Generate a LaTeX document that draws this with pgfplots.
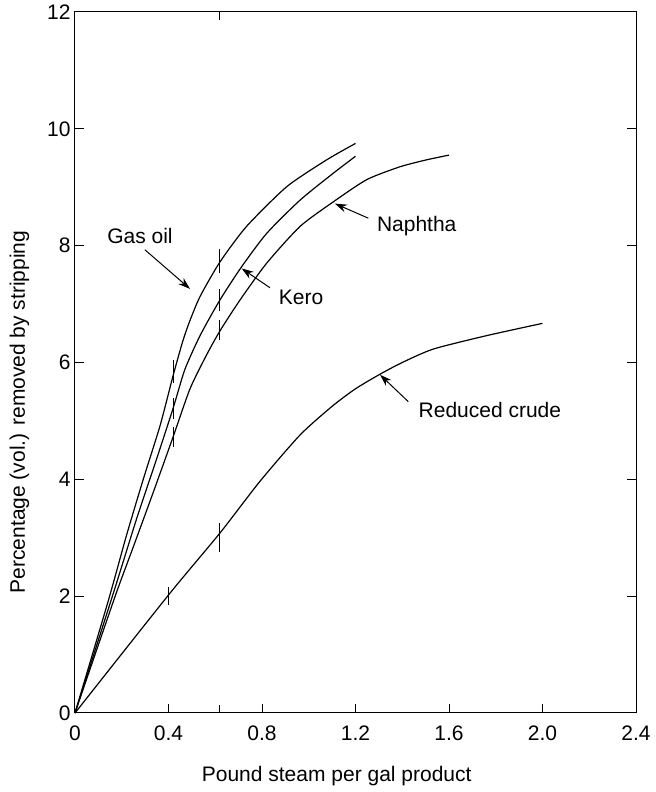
\documentclass[border=0pt]{standalone}
\usepackage{fontspec}
\setmainfont{Liberation Sans}
\usepackage{pgfplots}
\pgfplotsset{compat=1.18}
\usetikzlibrary{arrows.meta}

\begin{document}
\begin{tikzpicture}[font=\fontsize{21bp}{25bp}\selectfont]
\begin{axis}[
  name=ax,
  width=561bp, height=701bp, scale only axis,
  xmin=0, xmax=2.4, ymin=0, ymax=12,
  xtick={0,0.4,0.8,1.2,1.6,2.0,2.4},
  xticklabels={0,0.4,0.8,1.2,1.6,2.0,2.4},
  ytick={0,2,4,6,8,10,12},
  yticklabels={0,2,4,6,8,10,12},
  xtick pos=left,
  ytick pos=both,
  tick align=inside,
  major tick length=9bp,
  extra x ticks={0.62},
  extra x tick labels={},
  extra x tick style={xtick pos=both, major tick length=8bp},
  axis line style={line width=1bp},
  tick style={line width=1bp, black},
  xticklabel style={yshift=-9bp},
  yticklabel style={xshift=-1bp},
  xlabel={Pound steam per gal product},
  ylabel={Percentage (vol.) removed by stripping},
  xlabel style={at={(axis description cs:0.4665,0)}, anchor=base, yshift=-68bp},
  ylabel style={at={(axis description cs:0,0.4294)}, anchor=base, rotate=0, yshift=50bp},
  every axis plot/.append style={line width=1.2bp, black},
  clip=false,
]
% Gas oil
\addplot[smooth, tension=0.4] coordinates {(0,0) (0.143,1.93) (0.221,3.05) (0.292,4.0) (0.364,4.92) (0.42,5.78) (0.46,6.35) (0.49,6.7) (0.535,7.13) (0.62,7.72) (0.734,8.33) (0.906,9.01) (1.077,9.47) (1.2,9.75)};
% Kero
\addplot[smooth, tension=0.4] coordinates {(0,0) (0.164,2.05) (0.264,3.33) (0.35,4.36) (0.42,5.22) (0.47,5.88) (0.535,6.46) (0.62,7.07) (0.713,7.64) (0.82,8.21) (0.963,8.78) (1.105,9.24) (1.2,9.53)};
% Naphtha
\addplot[smooth, tension=0.4] coordinates {(0,0) (0.171,1.99) (0.25,2.85) (0.335,3.78) (0.42,4.73) (0.492,5.55) (0.563,6.13) (0.62,6.54) (0.706,7.07) (0.82,7.7) (0.963,8.33) (1.105,8.75) (1.248,9.13) (1.39,9.35) (1.505,9.47) (1.6,9.55)};
% Reduced crude
\addplot[smooth, tension=0.4] coordinates {(0,0) (0.4,2.02) (0.62,3.08) (0.79,3.96) (0.963,4.76) (1.1,5.25) (1.2,5.55) (1.305,5.8) (1.4,6.0) (1.533,6.23) (1.761,6.46) (2.0,6.67)};
% short vertical marks on the curves
\addplot[line width=1bp] coordinates {(0.42,5.65) (0.42,6.05)};
\addplot[line width=1bp] coordinates {(0.42,5.03) (0.42,5.4)};
\addplot[line width=1bp] coordinates {(0.42,4.55) (0.42,4.9)};
\addplot[line width=1bp] coordinates {(0.40,1.85) (0.40,2.15)};
\addplot[line width=1bp] coordinates {(0.62,7.53) (0.62,7.95)};
\addplot[line width=1bp] coordinates {(0.62,6.88) (0.62,7.25)};
\addplot[line width=1bp] coordinates {(0.62,6.38) (0.62,6.72)};
\addplot[line width=1bp] coordinates {(0.62,2.76) (0.62,3.26)};
% annotations
\node at (axis cs:0.278,8.17) {Gas oil};
\draw[line width=1bp, -{Stealth[length=12bp,width=8bp]}] (axis cs:0.299,7.93) -- (axis cs:0.492,7.26);
\node at (axis cs:0.967,7.12) {Kero};
\draw[line width=1bp, -{Stealth[length=12bp,width=8bp]}] (axis cs:0.834,7.28) -- (axis cs:0.713,7.61);
\node at (axis cs:1.462,8.34) {Naphtha};
\draw[line width=1bp, -{Stealth[length=12bp,width=8bp]}] (axis cs:1.255,8.47) -- (axis cs:1.112,8.72);
\node at (axis cs:1.775,5.19) {Reduced crude};
\draw[line width=1bp, -{Stealth[length=12bp,width=8bp]}] (axis cs:1.426,5.33) -- (axis cs:1.305,5.79);
\end{axis}
\pgfresetboundingbox
\path[use as bounding box] ([shift={(-75bp,-79bp)}]ax.south west) rectangle ([shift={(20bp,12bp)}]ax.north east);
\end{tikzpicture}
\end{document}
